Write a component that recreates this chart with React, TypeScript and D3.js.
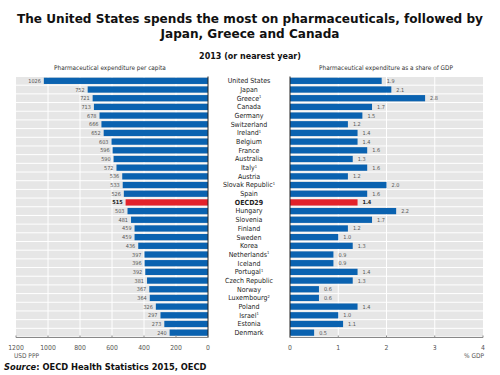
import React from "react";
import * as d3 from "d3";

const countries = ["United States","Japan","Greece","Canada","Germany","Switzerland","Ireland","Belgium","France","Australia","Italy","Austria","Slovak Republic","Spain","OECD29","Hungary","Slovenia","Finland","Sweden","Korea","Netherlands","Iceland","Portugal","Czech Republic","Norway","Luxembourg","Poland","Israel","Estonia","Denmark"];
const notes = ["","","1","","","","1","","","","1","","1","","","","","","","","1","","1","","","2","","1","",""];
const perCapita = [1026,752,721,713,678,666,652,603,596,590,572,536,533,526,515,503,481,459,459,436,397,396,392,381,367,364,326,297,273,240];
const shareGDP = [1.9,2.1,2.8,1.7,1.5,1.2,1.4,1.4,1.6,1.3,1.6,1.2,2.0,1.6,1.4,2.2,1.7,1.2,1.0,1.3,0.9,0.9,1.4,1.3,0.6,0.6,1.4,1.0,1.1,0.5];
const leftTicks = [1200,1000,800,600,400,200,0];
const rightTicks = [0,1,2,3,4];
const highlight = "OECD29";

const BLUE = "#0a62b0";
const RED = "#e2222a";
const GRAY = "#e6e6e6";
const NARROW = "'Liberation Sans Narrow', 'DejaVu Sans Condensed', sans-serif";

export default function App() {
  const W = 500, H = 375;
  const y = d3.scaleBand<string>().domain(countries).range([76.5, 337]).paddingInner(0.28).paddingOuter(0.14);
  const yRow = d3.scaleBand<string>().domain(countries).range([76.5, 337]).paddingInner(0);
  const xL = d3.scaleLinear().domain([0, 1200]).range([208, 16]);
  const xR = d3.scaleLinear().domain([0, 4]).range([290, 483]);
  const axisY = 337.5;

  return (
    <svg width={W} height={H} style={{ position: "absolute", left: 0, top: 0, background: "#fff" }}>
      <text x={250} y={23} textAnchor="middle" fontFamily="'DejaVu Sans', Verdana, sans-serif" fontWeight="bold" fontSize={12.1} fill="#111">The United States spends the most on pharmaceuticals, followed by</text>
      <text x={250} y={38} textAnchor="middle" fontFamily="'DejaVu Sans', Verdana, sans-serif" fontWeight="bold" fontSize={12.1} fill="#111">Japan, Greece and Canada</text>
      <text x={250} y={59} textAnchor="middle" fontFamily="'DejaVu Sans', Verdana, sans-serif" fontWeight="bold" fontSize={8} fill="#111">2013 (or nearest year)</text>
      <text x={110} y={70} textAnchor="middle" fontFamily={NARROW} fontSize={6.4} fill="#333">Pharmaceutical expenditure per capita</text>
      <text x={386} y={70} textAnchor="middle" fontFamily={NARROW} fontSize={6.4} fill="#333">Pharmaceutical expenditure as a share of GDP</text>

      {/* left panel background */}
      {countries.map((c) => (
        <rect key={"lb" + c} x={xL(1200)} y={yRow(c)! + 0.5} width={xL(0) - xL(1200)} height={yRow.bandwidth() - 1} fill={GRAY} />
      ))}
      {leftTicks.filter((t) => t !== 0 && t !== 1200).map((t) => (
        <line key={"lg" + t} x1={xL(t)} x2={xL(t)} y1={76.5} y2={axisY} stroke="#fff" strokeWidth={1} />
      ))}
      {countries.map((c, i) => (
        <g key={"lbar" + c}>
          <rect x={xL(perCapita[i])} y={y(c)} width={xL(0) - xL(perCapita[i])} height={y.bandwidth()} fill={c === highlight ? RED : BLUE} />
          <text x={xL(perCapita[i]) - 3} y={y(c)! + y.bandwidth() / 2 + 2} textAnchor="end" fontFamily={NARROW} fontSize={5.5} fontWeight={c === highlight ? "bold" : "normal"} fill={c === highlight ? "#222" : "#555"}>{perCapita[i]}</text>
        </g>
      ))}
      <line x1={xL(0)} x2={xL(0)} y1={76.5} y2={axisY} stroke="#222" strokeWidth={1} />
      <line x1={xL(1200)} x2={xL(0)} y1={axisY} y2={axisY} stroke="#888" strokeWidth={1} />
      {leftTicks.map((t) => (
        <g key={"lt" + t}>
          <line x1={xL(t)} x2={xL(t)} y1={axisY} y2={axisY - 2} stroke="#888" />
          <text x={xL(t)} y={350} textAnchor="middle" fontFamily={NARROW} fontSize={6.8} fill="#555">{t}</text>
        </g>
      ))}
      <text x={14} y={358} fontFamily={NARROW} fontSize={6.5} fill="#555">USD PPP</text>

      {/* country labels */}
      {countries.map((c, i) => (
        <text key={"cl" + c} x={249} y={y(c)! + y.bandwidth() / 2 + 2.4} textAnchor="middle" fontFamily={NARROW} fontSize={7} fontWeight={c === highlight ? "bold" : "normal"} fill="#222">
          {c}
          {notes[i] && <tspan fontSize={4} dy={-2.5}>{notes[i]}</tspan>}
        </text>
      ))}

      {/* right panel */}
      {countries.map((c) => (
        <rect key={"rb" + c} x={xR(0)} y={yRow(c)! + 0.5} width={xR(4) - xR(0)} height={yRow.bandwidth() - 1} fill={GRAY} />
      ))}
      {rightTicks.filter((t) => t !== 0 && t !== 4).map((t) => (
        <line key={"rg" + t} x1={xR(t)} x2={xR(t)} y1={76.5} y2={axisY} stroke="#fff" strokeWidth={1} />
      ))}
      {countries.map((c, i) => (
        <g key={"rbar" + c}>
          <rect x={xR(0)} y={y(c)} width={xR(shareGDP[i]) - xR(0)} height={y.bandwidth()} fill={c === highlight ? RED : BLUE} />
          <text x={xR(shareGDP[i]) + 5} y={y(c)! + y.bandwidth() / 2 + 2} fontFamily={NARROW} fontSize={5.5} fontWeight={c === highlight ? "bold" : "normal"} fill={c === highlight ? "#222" : "#555"}>{d3.format(".1f")(shareGDP[i])}</text>
        </g>
      ))}
      <line x1={xR(0)} x2={xR(0)} y1={76.5} y2={axisY} stroke="#222" strokeWidth={1} />
      <line x1={xR(0)} x2={xR(4)} y1={axisY} y2={axisY} stroke="#888" strokeWidth={1} />
      {rightTicks.map((t) => (
        <g key={"rt" + t}>
          <line x1={xR(t)} x2={xR(t)} y1={axisY} y2={axisY - 2} stroke="#888" />
          <text x={xR(t)} y={350} textAnchor="middle" fontFamily={NARROW} fontSize={6.8} fill="#555">{t}</text>
        </g>
      ))}
      <text x={484} y={358} textAnchor="end" fontFamily={NARROW} fontSize={6.5} fill="#555">% GDP</text>

      <text x={4} y={370} fontFamily="'DejaVu Sans', Verdana, sans-serif" fontWeight="bold" fontSize={8.3} fill="#111">
        <tspan fontStyle="italic">Source</tspan>: OECD Health Statistics 2015, OECD
      </text>
    </svg>
  );
}
